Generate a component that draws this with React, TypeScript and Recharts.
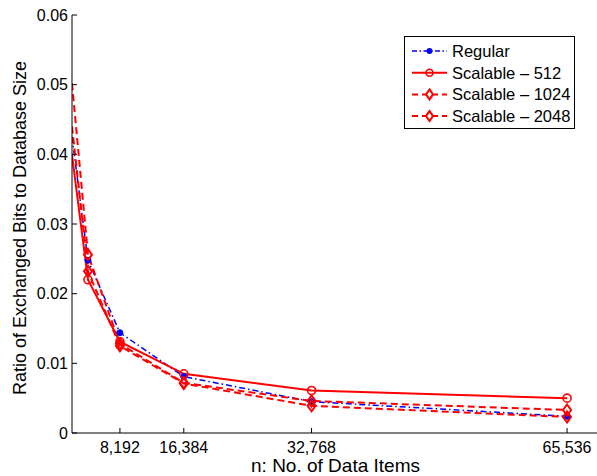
import React from "react";
import { LineChart, Line, XAxis, YAxis, Legend, Label } from "recharts";

// n: number of data items
const nItems = [2048, 4096, 8192, 16384, 32768, 65536];
const regular = [0.0425, 0.0248, 0.0144, 0.0081, 0.0045, 0.0024];
const scalable512 = [0.0399, 0.022, 0.0131, 0.0085, 0.0061, 0.005];
const scalable1024 = [0.0502, 0.0256, 0.0128, 0.0072, 0.0046, 0.0033];
const scalable2048 = [0.044, 0.0232, 0.0125, 0.0071, 0.0039, 0.0023];

const seriesNames = ["Regular", "Scalable \u2013 512", "Scalable \u2013 1024", "Scalable \u2013 2048"];
const xTicks = [8192, 16384, 32768, 65536];
const yTicks = [0, 0.01, 0.02, 0.03, 0.04, 0.05, 0.06];

const data = nItems.map((n, i) => ({
  n,
  regular: regular[i],
  s512: scalable512[i],
  s1024: scalable1024[i],
  s2048: scalable2048[i],
}));

const FONT = '"Liberation Sans", Arial, Helvetica, sans-serif';
const RED = "#ff0000";
const BLUE = "#0000ff";

const fmtX = (v: number) => v.toLocaleString("en-US");
const fmtY = (v: number) => (v === 0 ? "0" : v.toFixed(2));

// eslint-disable-next-line @typescript-eslint/no-explicit-any
function BottomTick({ x, y, payload }: any) {
  return (
    <g>
      <line x1={x} y1={y} x2={x} y2={y - 5} stroke="#000" />
      <text x={x} y={y + 20} textAnchor="middle" fontSize={16} fill="#000" fontFamily={FONT}>
        {fmtX(payload.value)}
      </text>
    </g>
  );
}

// eslint-disable-next-line @typescript-eslint/no-explicit-any
function TopTick({ x, y }: any) {
  return <line x1={x} y1={y} x2={x} y2={y + 5} stroke="#000" />;
}

// eslint-disable-next-line @typescript-eslint/no-explicit-any
function LeftTick({ x, y, payload }: any) {
  return (
    <g>
      <line x1={x} y1={y} x2={x + 5} y2={y} stroke="#000" />
      <text x={x - 4} y={y} textAnchor="end" dominantBaseline="central" fontSize={16} fill="#000" fontFamily={FONT}>
        {fmtY(payload.value)}
      </text>
    </g>
  );
}

// eslint-disable-next-line @typescript-eslint/no-explicit-any
function YTitle({ viewBox }: any) {
  const cx = viewBox.x + 20;
  const cy = viewBox.y + viewBox.height / 2 + 4;
  return (
    <text
      x={cx}
      y={cy}
      transform={`rotate(-90, ${cx}, ${cy})`}
      textAnchor="middle"
      dominantBaseline="central"
      fontSize={18}
      fill="#000"
      fontFamily={FONT}
    >
      Ratio of Exchanged Bits to Database Size
    </text>
  );
}

// markers: first point sits on the axis and is clipped in the original
// eslint-disable-next-line @typescript-eslint/no-explicit-any
const blueDot = (p: any) =>
  p.index === 0 ? <g key={p.key} /> : <circle key={p.key} cx={p.cx} cy={p.cy} r={3} fill={BLUE} stroke={BLUE} />;
// eslint-disable-next-line @typescript-eslint/no-explicit-any
const ringDot = (p: any) =>
  p.index === 0 ? <g key={p.key} /> : <circle key={p.key} cx={p.cx} cy={p.cy} r={4} fill="none" stroke={RED} strokeWidth={1.6} />;
// eslint-disable-next-line @typescript-eslint/no-explicit-any
const diamondDot = (p: any) =>
  p.index === 0 ? (
    <g key={p.key} />
  ) : (
    <polygon
      key={p.key}
      points={`${p.cx},${p.cy - 5.5} ${p.cx + 4},${p.cy} ${p.cx},${p.cy + 5.5} ${p.cx - 4},${p.cy}`}
      fill="none"
      stroke={RED}
      strokeWidth={2}
    />
  );

function LegendBox() {
  const rows = [
    { color: BLUE, dash: "5 2.5 1.5 2.5", width: 1.5, marker: "dot" },
    { color: RED, dash: undefined, width: 2, marker: "ring" },
    { color: RED, dash: "6 4", width: 2, marker: "diamond" },
    { color: RED, dash: "6 4", width: 2, marker: "diamond" },
  ];
  return (
    <svg width={172} height={94} style={{ display: "block" }}>
      <rect x={0.5} y={0.5} width={170} height={92} fill="#fff" stroke="#000" />
      {rows.map((r, i) => {
        const cy = 15 + i * 21.7;
        return (
          <g key={i}>
            <line x1={8} y1={cy} x2={43} y2={cy} stroke={r.color} strokeWidth={r.width} strokeDasharray={r.dash} />
            {r.marker === "dot" && <circle cx={25.5} cy={cy} r={3} fill={BLUE} />}
            {r.marker === "ring" && <circle cx={25.5} cy={cy} r={3.5} fill="none" stroke={RED} strokeWidth={1.6} />}
            {r.marker === "diamond" && (
              <polygon
                points={`25.5,${cy - 5} 29,${cy} 25.5,${cy + 5} 22,${cy}`}
                fill="#fff"
                stroke={RED}
                strokeWidth={2}
              />
            )}
            <text x={48} y={cy} dominantBaseline="central" fontSize={16.5} fill="#000" fontFamily={FONT}>
              {seriesNames[i]}
            </text>
          </g>
        );
      })}
    </svg>
  );
}

export default function App() {
  return (
    <div style={{ position: "absolute", left: 0, top: 0, width: 597, height: 476, overflow: "hidden", background: "#fff" }}>
      <LineChart width={610} height={476} data={data} margin={{ top: 15, right: 11, bottom: 0, left: 0 }}>
        <XAxis
          dataKey="n"
          type="number"
          domain={[2048, 69632]}
          ticks={xTicks}
          allowDataOverflow
          height={43}
          tickSize={0}
          tickMargin={0}
          tick={<BottomTick />}
          axisLine={{ stroke: "#000" }}
          label={{ value: "n: No. of Data Items", position: "insideBottom", offset: 4, fontSize: 19, fill: "#000", fontFamily: FONT }}
        />
        <XAxis
          xAxisId="top"
          orientation="top"
          dataKey="n"
          type="number"
          domain={[2048, 69632]}
          ticks={xTicks}
          allowDataOverflow
          height={0}
          tickSize={0}
          tickMargin={0}
          tick={<TopTick />}
          axisLine={{ stroke: "#000" }}
        />
        <YAxis
          type="number"
          domain={[0, 0.06]}
          ticks={yTicks}
          allowDataOverflow
          width={72}
          tickSize={0}
          tickMargin={0}
          tick={<LeftTick />}
          axisLine={{ stroke: "#000" }}
        >
          <Label content={<YTitle />} />
        </YAxis>
        <Legend
          layout="vertical"
          align="center"
          verticalAlign="middle"
          content={() => <LegendBox />}
          wrapperStyle={{ position: "absolute", left: 404, top: 36, width: 172, height: 94 }}
        />
        <Line dataKey="regular" name={seriesNames[0]} stroke={BLUE} strokeWidth={1.5} strokeDasharray="6 3 1.5 3" dot={blueDot} isAnimationActive={false} />
        <Line dataKey="s512" name={seriesNames[1]} stroke={RED} strokeWidth={2} dot={ringDot} isAnimationActive={false} />
        <Line dataKey="s1024" name={seriesNames[2]} stroke={RED} strokeWidth={2} strokeDasharray="7 4" dot={diamondDot} isAnimationActive={false} />
        <Line dataKey="s2048" name={seriesNames[3]} stroke={RED} strokeWidth={2} strokeDasharray="7 4" dot={diamondDot} isAnimationActive={false} />
      </LineChart>
    </div>
  );
}
